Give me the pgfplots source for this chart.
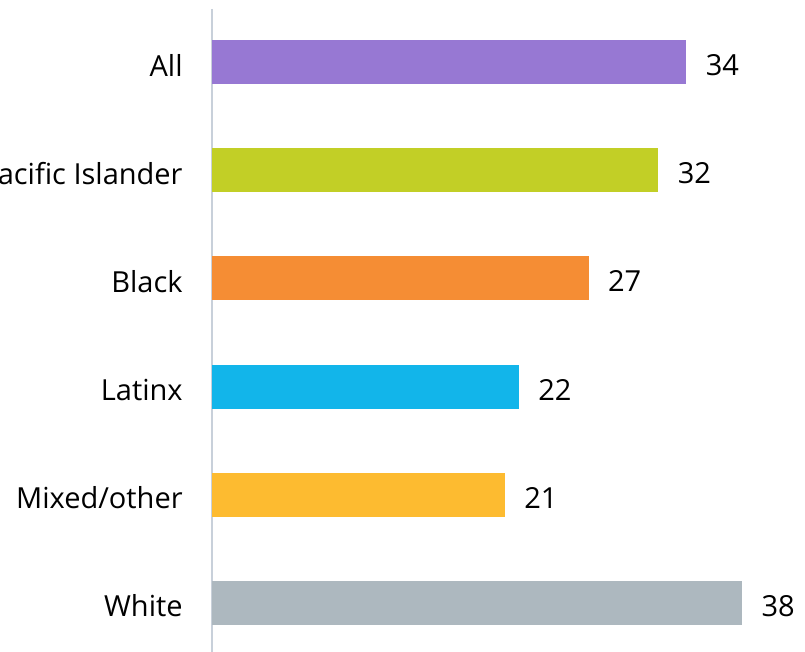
\documentclass[border=0pt]{standalone}
\usepackage{pgfplots}
\pgfplotsset{compat=1.18}
\usepackage{fontspec}
\setmainfont{Open Sans}
\definecolor{cAll}{HTML}{9778D3}
\definecolor{cPac}{HTML}{C2CF26}
\definecolor{cBlk}{HTML}{F58D34}
\definecolor{cLat}{HTML}{12B5EA}
\definecolor{cMix}{HTML}{FDBB30}
\definecolor{cWht}{HTML}{ADB8BF}
\definecolor{axcol}{HTML}{C8D0DA}
\begin{document}
\begin{tikzpicture}
\useasboundingbox (0,0) rectangle (402.5pt,326pt);
\clip (0,0) rectangle (402.5pt,326pt);
\begin{axis}[
  at={(106pt,0pt)}, anchor=south west,
  scale only axis,
  width=296.5pt, height=321.5pt,
  xmin=0, xmax=42.5,
  ymin=-0.49, ymax=5.453,
  y dir=reverse,
  xbar, bar shift=0pt, bar width=22pt,
  axis lines*=left,
  x axis line style={draw=none},
  y axis line style={draw=axcol, line width=1pt, -},
  xtick=\empty,
  ytick={0,1,2,3,4,5},
  yticklabels={All,Pacific Islander,Black,Latinx,Mixed/other,White},
  major tick length=0pt,
  yticklabel style={font=\fontsize{14.5}{17}\selectfont, inner sep=0pt, xshift=-14.5pt, yshift=-1.5pt, anchor=east},
  nodes near coords,
  nodes near coords style={font=\fontsize{14.5}{17}\selectfont, anchor=west, inner sep=0pt, xshift=9.5pt, yshift=-1.5pt, text=black},
  point meta=explicit symbolic,
  clip=false,
]
\addplot[fill=cAll, draw=none] coordinates {(34,0) [34]};
\addplot[fill=cPac, draw=none] coordinates {(32,1) [32]};
\addplot[fill=cBlk, draw=none] coordinates {(27,2) [27]};
\addplot[fill=cLat, draw=none] coordinates {(22,3) [22]};
\addplot[fill=cMix, draw=none] coordinates {(21,4) [21]};
\addplot[fill=cWht, draw=none] coordinates {(38,5) [38]};
\end{axis}
\end{tikzpicture}
\end{document}
